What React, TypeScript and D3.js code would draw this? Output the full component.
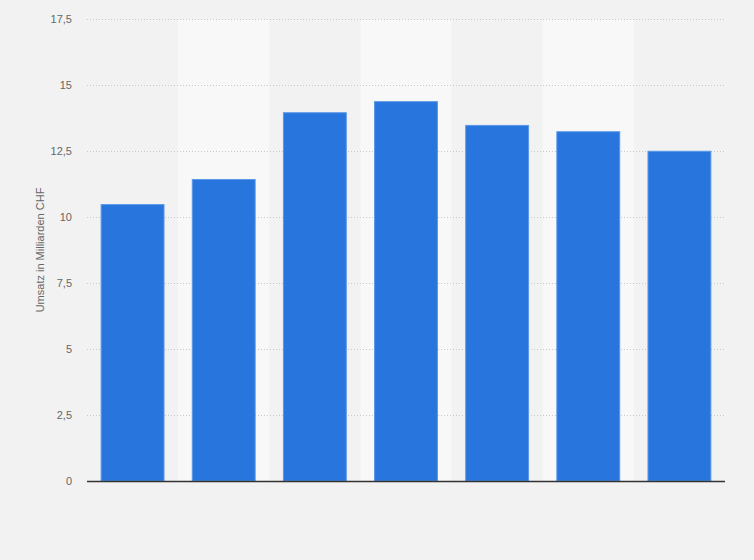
import * as d3 from "d3";

// categories are not labelled in the picture, so keep neutral keys
const categories = ["1", "2", "3", "4", "5", "6", "7"];
const revenue = [10.47, 11.42, 13.95, 14.37, 13.47, 13.23, 12.49];
const yTicks = [0, 2.5, 5, 7.5, 10, 12.5, 15, 17.5];
const yTitle = "Umsatz in Milliarden CHF";

const width = 754;
const height = 560;
const margin = { top: 19, right: 29, bottom: 79, left: 87 };
const FONT = "'Liberation Sans', Arial, Helvetica, sans-serif";

function formatTick(n: number) {
  return String(n).replace(".", ",");
}

export default function App() {
  const x = d3.scaleBand<string>()
    .domain(categories)
    .range([margin.left, width - margin.right])
    .paddingInner(0.31)
    .paddingOuter(0.155);

  const y = d3.scaleLinear()
    .domain([0, 17.5])
    .range([height - margin.bottom, margin.top]);

  const step = x.step();
  const x0 = margin.left;
  const x1 = width - margin.right;

  return (
    <svg
      width={width}
      height={height}
      style={{ position: "absolute", left: 0, top: 0, display: "block" }}
      fontFamily={FONT}
    >
      <rect width={width} height={height} fill="#f2f2f2" />

      {/* lighter alternating columns */}
      {categories.map((c, i) =>
        i % 2 === 1 ? (
          <rect
            key={"band" + c}
            x={x(c)! - (step - x.bandwidth()) / 2}
            y={y(17.5)}
            width={step}
            height={y(0) - y(17.5)}
            fill="#f8f8f8"
          />
        ) : null
      )}

      {/* grid */}
      {yTicks.filter(t => t > 0).map(t => (
        <line
          key={"g" + t}
          x1={x0}
          x2={x1}
          y1={y(t) + 0.5}
          y2={y(t) + 0.5}
          stroke="#c8c8c8"
          strokeWidth={1}
          strokeDasharray="1,2"
        />
      ))}

      {/* tick labels */}
      {yTicks.map(t => (
        <text
          key={"t" + t}
          x={72}
          y={y(t)}
          dy="0.35em"
          textAnchor="end"
          fontSize={11}
          fill="#666666"
        >
          {formatTick(t)}
        </text>
      ))}

      <text
        transform={`translate(44,${(y(0) + y(17.5)) / 2}) rotate(-90)`}
        textAnchor="middle"
        fontSize={11}
        fill="#666666"
      >
        {yTitle}
      </text>

      {/* bars */}
      {categories.map((c, i) => (
        <rect
          key={"b" + c}
          x={x(c)!}
          y={y(revenue[i])}
          width={x.bandwidth()}
          height={y(0) - y(revenue[i])}
          fill="#2876dd"
          stroke="#5b98e8"
          strokeWidth={1}
        />
      ))}

      <line
        x1={x0}
        x2={x1}
        y1={y(0) + 0.5}
        y2={y(0) + 0.5}
        stroke="#333333"
        strokeWidth={1.5}
      />
    </svg>
  );
}
